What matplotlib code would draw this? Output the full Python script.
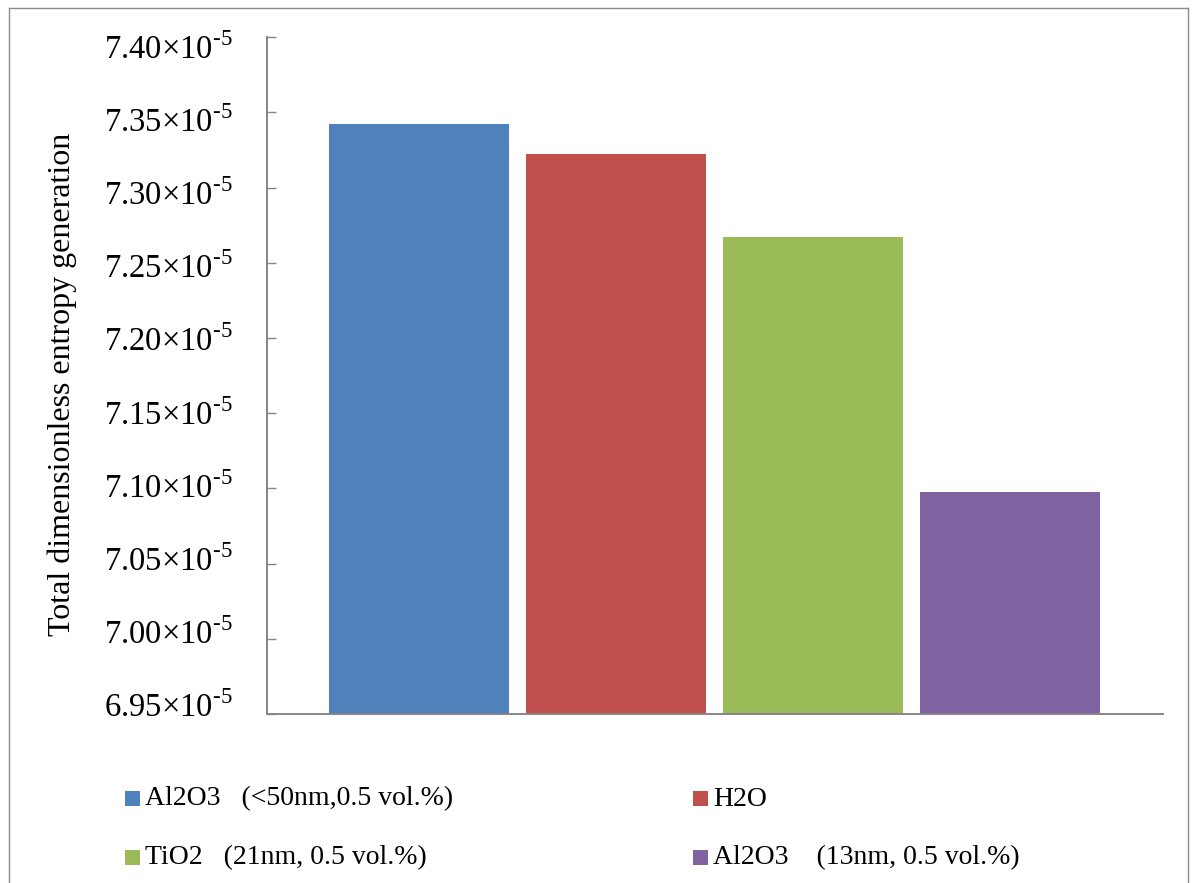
import matplotlib
matplotlib.use("Agg")
import matplotlib.pyplot as plt
import numpy as np
from matplotlib.patches import Rectangle
from matplotlib.lines import Line2D
from matplotlib.transforms import ScaledTranslation

# Data
labels = [
    "Al2O3   (<50nm,0.5 vol.%)",
    "H2O",
    "TiO2   (21nm, 0.5 vol.%)",
    "Al2O3    (13nm, 0.5 vol.%)",
]
values = [7.3424e-5, 7.3224e-5, 7.2672e-5, 7.0977e-5]
colors = ["#4F81BD", "#C0504D", "#9BBB59", "#8064A2"]
y_ticks = [6.95e-5, 7.00e-5, 7.05e-5, 7.10e-5, 7.15e-5, 7.20e-5, 7.25e-5, 7.30e-5, 7.35e-5, 7.40e-5]
ylabel = "Total dimensionless entropy generation"

plt.rcParams["font.family"] = ["Liberation Serif", "DejaVu Serif"]

W, H = 1194, 883
fig = plt.figure(figsize=(W / 100, H / 100), dpi=100)
fig.patch.set_facecolor("white")

# Outer chart frame
frame_col = "#8c8c8c"
fx0, fy0, fx1 = 9 / W, 1 - 8 / H, 1188 / W
for xs, ys in [([fx0, fx0], [0, fy0]), ([fx0, fx1], [fy0, fy0]), ([fx1, fx1], [0, fy0])]:
    fig.add_artist(Line2D(xs, ys, color=frame_col, lw=1.0, transform=fig.transFigure))

ax = fig.add_axes([267 / W, 1 - 714 / H, (1163 - 267) / W, (714 - 37.3) / H])
x = list(range(len(values)))
ax.bar(x, values, width=0.914, color=colors, zorder=2)

ax.set_ylim(y_ticks[0], y_ticks[-1])
ax.set_xlim(-0.772, 3.777)
ax.set_yticks(y_ticks)
ax.set_yticklabels([f"{v * 1e5:.2f}×10$^{{\\mathregular{{\u20105}}}}$" for v in y_ticks])

spine_col = "#868686"
for s in ("top", "right"):
    ax.spines[s].set_visible(False)
for s in ("left", "bottom"):
    ax.spines[s].set_color(spine_col)
    ax.spines[s].set_linewidth(1.4)
ax.set_xticks([])
ax.tick_params(axis="y", direction="in", length=6.5, width=1.0, color=spine_col,
               labelsize=23.5, pad=25)

# Tick labels sit a little lower near the top of the axis and a little higher near the bottom
n = len(y_ticks)
for i, t in enumerate(ax.get_yticklabels()):
    t.set_verticalalignment("center")
    k = n - 1 - i
    dy = -(12 - 2 * k) / 100
    t.set_transform(t.get_transform() + ScaledTranslation(0, dy, fig.dpi_scale_trans))

fig.text(62 / W, 1 - 384 / H, ylabel, rotation=90, ha="center", va="center", fontsize=23)

# Legend in two columns, filled row by row
col_x = [125, 693]
row_y = [798, 857]
sq = 15
for i, (lab, c) in enumerate(zip(labels, colors)):
    r, k = divmod(i, 2)
    x0, yc = col_x[k], row_y[r]
    fig.add_artist(Rectangle((x0 / W, 1 - (yc + sq / 2) / H), sq / W, sq / H,
                             transform=fig.transFigure, facecolor=c, edgecolor="none"))
    fig.text((x0 + sq + 5) / W, 1 - (yc + 1) / H, lab, ha="left", va="center", fontsize=20)

fig.savefig("out.png", dpi=100, facecolor="white")
